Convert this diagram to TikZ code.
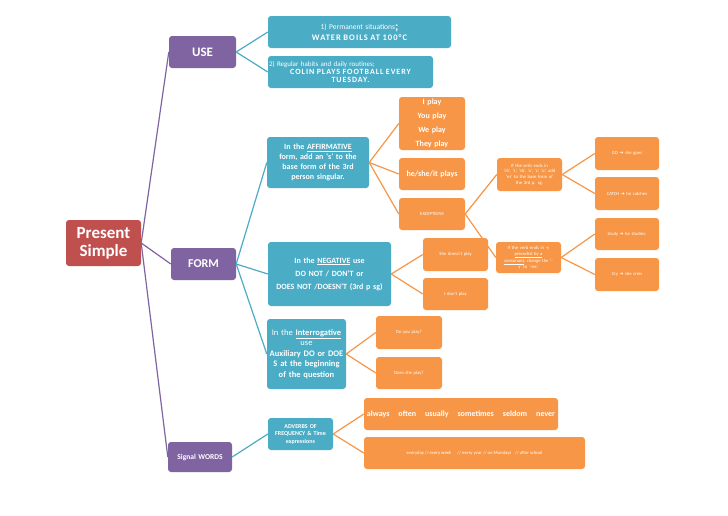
\documentclass[tikz,border=0pt]{standalone}
\usepackage{fontspec}
\setmainfont{Carlito}
\newfontfamily\symfont{DejaVu Sans}
\newfontfamily\capsfont[LetterSpace=12]{Carlito}
\usetikzlibrary{positioning}
\definecolor{psred}{HTML}{C0504D}
\definecolor{mmpurple}{HTML}{8064A2}
\definecolor{mmblue}{HTML}{4BACC6}
\definecolor{mmorange}{HTML}{F79646}
\newcommand{\arr}{{\symfont\char"2794}}
\tikzset{
	% box styles
	mmbox/.style={rounded corners=3pt,text=white,align=center,inner sep=1pt},
	rootbox/.style={mmbox,fill=psred,font=\fontsize{17}{18}\selectfont\bfseries},
	purplebox/.style={mmbox,fill=mmpurple},
	bluebox/.style={mmbox,fill=mmblue},
	orangebox/.style={mmbox,fill=mmorange},
	tinytext/.style={font=\fontsize{4.7}{5.7}\selectfont},
	% line styles
	purpleline/.style={draw=mmpurple,line width=1.2pt},
	blueline/.style={draw=mmblue,line width=1.2pt},
	orangeline/.style={draw=mmorange,line width=1.2pt},
}
\begin{document}
\begin{tikzpicture}[x=1pt,y=-1pt]
\useasboundingbox[fill=white] (0,0) rectangle (728,515);
% main branches
\node[rootbox,text width=73pt,minimum height=46pt] (ps) at (103.5,243) {Present\\Simple};
\node[purplebox,text width=65pt,minimum height=32pt,font=\fontsize{13}{14}\selectfont\bfseries] (use) at (202.5,52) {USE};
\node[purplebox,text width=63pt,minimum height=32pt,font=\fontsize{12}{13}\selectfont\bfseries] (form) at (203.5,264) {FORM};
\node[purplebox,text width=62pt,minimum height=30pt,font=\fontsize{7.5}{9}\selectfont\bfseries] (sig) at (200,457) {Signal WORDS};
% use
\node[bluebox,text width=181pt,minimum height=32pt,font=\fontsize{7.5}{10}\selectfont] (perm) at (359.5,32)
  {1) Permanent situations{\fontsize{12}{10}\selectfont\bfseries\raisebox{-1pt}{;}}\\[1pt]{\capsfont\fontsize{8.5}{9}\selectfont\bfseries WATER BOILS AT 100°C}};
\node[bluebox,text width=163pt,minimum height=32pt,font=\fontsize{7}{8}\selectfont] (reg) at (350.5,72)
  {\raggedright 2) Regular habits and daily routines;\par\centering{\capsfont\fontsize{8}{8.5}\selectfont\bfseries COLIN PLAYS FOOTBALL EVERY\\TUESDAY.}};
% form
\node[bluebox,text width=100pt,minimum height=51pt,font=\fontsize{8}{10}\selectfont\bfseries] (aff) at (318,162.5)
  {In the \underline{AFFIRMATIVE}\\form, add an `s' to the\\base form of the 3rd\\person singular.};
\node[bluebox,text width=121pt,minimum height=64pt,font=\fontsize{8}{13}\selectfont\bfseries] (neg) at (329.5,274)
  {In the \underline{NEGATIVE} use\\DO NOT / DON'T or\\DOES NOT /DOESN'T (3rd p sg)};
\node[bluebox,text width=77pt,minimum height=70pt,font=\fontsize{8.5}{10.5}\selectfont] (intr) at (306.5,354)
  {In the \textbf{\underline{Interrogative}}\\use\\\textbf{Auxiliary DO or DOE}\\\textbf{S at the beginning}\\\textbf{of the question}};
\node[bluebox,text width=63pt,minimum height=32pt,font=\fontsize{6}{7.5}\selectfont\bfseries] (adv) at (300.5,434)
  {ADVERBS OF\\FREQUENCY \& Time\\expressions};
% affirmative
\node[orangebox,text width=64pt,minimum height=53pt,font=\fontsize{8}{14}\selectfont\bfseries] (plays4) at (432,123.5)
  {I play\\You play\\We play\\They play};
\node[orangebox,text width=64pt,minimum height=32pt,font=\fontsize{8}{9}\selectfont\bfseries] (he) at (432,174) {he/she/it plays};
\node[orangebox,text width=64pt,minimum height=32pt,tinytext] (exc) at (432,214) {EXCEPTIONS};
% exceptions
\node[orangebox,text width=63pt,minimum height=33pt,tinytext] (ifch) at (529.5,174.5)
  {If the verb ends in\\`ch', `s', `sh', `x', `z', `o', add\\`es' to the base form of\\the 3rd p. sg.};
\node[orangebox,text width=63pt,minimum height=31pt,tinytext] (ify) at (528.5,257.5)
  {If the verb ends in -y\\\underline{preceded by a}\\\underline{consonant}, change the `-\\y' to `-ies'.};
\node[orangebox,text width=62pt,minimum height=33pt,tinytext] (go) at (627,153.5) {GO \arr\ she goes};
\node[orangebox,text width=62pt,minimum height=33pt,tinytext] (catch) at (627,193.5) {CATCH \arr\ he catches};
\node[orangebox,text width=62pt,minimum height=32pt,tinytext] (study) at (627,234) {study \arr\ he studies.};
\node[orangebox,text width=62pt,minimum height=33pt,tinytext] (cry) at (627,274.5) {Cry \arr\ she cries};
% negative
\node[orangebox,text width=63pt,minimum height=33pt,tinytext] (doesnt) at (455.5,254.5) {She doesn't play};
\node[orangebox,text width=63pt,minimum height=32pt,tinytext] (dont) at (455.5,294) {I don't play};
% interrogative
\node[orangebox,text width=64pt,minimum height=33pt,tinytext] (doyou) at (409,332.5) {Do you play?};
\node[orangebox,text width=64pt,minimum height=32pt,tinytext] (doesshe) at (409,373) {Does she play?};
% signal words
\node[orangebox,minimum width=194pt,minimum height=32pt,font=\fontsize{8}{9}\selectfont\bfseries] (always) at (461,414)
  {always\hspace{9pt}often\hspace{9pt}usually\hspace{9pt}sometimes\hspace{9pt}seldom\hspace{9pt}never};
\node[orangebox,minimum width=221pt,minimum height=32pt,tinytext] (every) at (474.5,453)
  {everyday // every week\hspace{6pt}// every year // on Mondays\hspace{4pt}// after school};
% connectors
\foreach \t in {use,form,sig}
  \draw[purpleline] (ps.east) -- (\t.west);
\foreach \t in {perm,reg}
  \draw[blueline] (use.east) -- (\t.west);
\foreach \t in {aff,neg,intr}
  \draw[blueline] (form.east) -- (\t.west);
\draw[blueline] (sig.east) -- (adv.west);
\foreach \s/\t in {aff/plays4,aff/he,aff/exc,exc/ifch,exc/ify,ifch/go,ifch/catch,ify/study,ify/cry,
  neg/doesnt,neg/dont,intr/doyou,intr/doesshe,adv/always,adv/every}
  \draw[orangeline] (\s.east) -- (\t.west);
\end{tikzpicture}
\end{document}
